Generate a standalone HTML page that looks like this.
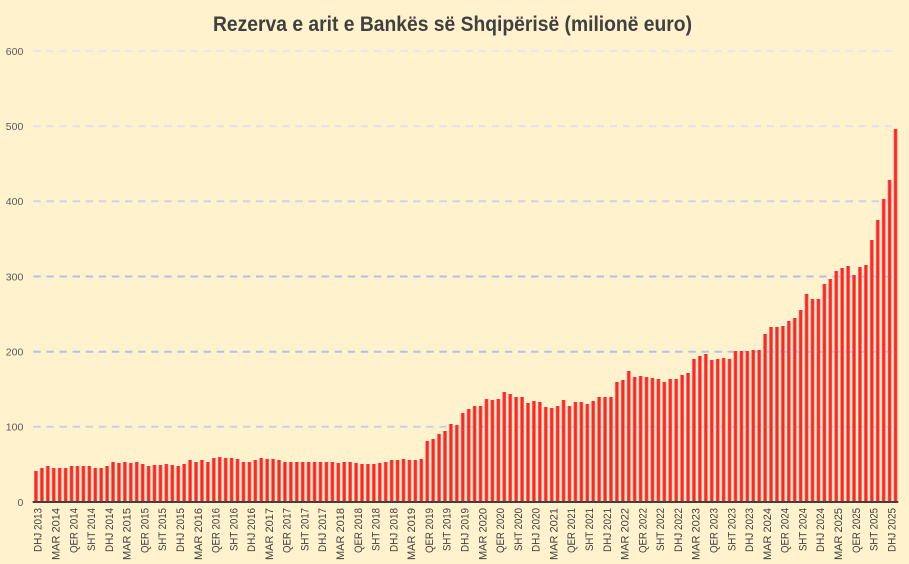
<!DOCTYPE html>
<html><head><meta charset="utf-8"><style>
html,body{margin:0;padding:0}
body{width:909px;height:564px;background:#FFF2CC;position:relative;overflow:hidden;font-family:"Liberation Sans",sans-serif}
svg{position:absolute;left:0;top:0}
#bars{position:absolute;left:32.736px;top:0;height:501px;width:876px;display:flex;align-items:flex-end;transform:scaleX(0.988);transform-origin:0 0}
#bars i{display:block;flex:none;width:3.125px;margin:0 1.4375px;height:calc(var(--v)*0.7517px - 1px);background:linear-gradient(to right,#ff958b,#ff2626 28%,#ff2626 72%,#ff958b)}
</style></head><body>
<svg width="909" height="564">
<g stroke-width="2" stroke-dasharray="7.4 5.7" fill="none">
<line x1="33.3" y1="51" x2="893" y2="51" stroke="#E3E8F0"/>
<line x1="33.3" y1="126.2" x2="893" y2="126.2" stroke="#DCE3EF"/>
<line x1="33.3" y1="201.3" x2="893" y2="201.3" stroke="#C8D5EC"/>
<line x1="33.3" y1="276.5" x2="893" y2="276.5" stroke="#AEC3EA"/>
<line x1="33.3" y1="351.7" x2="893" y2="351.7" stroke="#AEC3EA"/>
<line x1="33.3" y1="426.8" x2="893" y2="426.8" stroke="#C3D1EA"/>
</g>
</svg>
<div id="bars">
<i style="--v:41.7"></i><i style="--v:44.8"></i><i style="--v:47.4"></i><i style="--v:45.6"></i><i style="--v:44.8"></i><i style="--v:44.8"></i><i style="--v:47.4"></i><i style="--v:47.4"></i><i style="--v:47.4"></i><i style="--v:47.4"></i>
<i style="--v:44.8"></i><i style="--v:45.6"></i><i style="--v:48.2"></i><i style="--v:53.6"></i><i style="--v:51.9"></i><i style="--v:53.6"></i><i style="--v:51.9"></i><i style="--v:52.8"></i><i style="--v:51"></i><i style="--v:48.2"></i>
<i style="--v:49"></i><i style="--v:49"></i><i style="--v:51"></i><i style="--v:49"></i><i style="--v:47.4"></i><i style="--v:50"></i><i style="--v:55.4"></i><i style="--v:52.8"></i><i style="--v:55.4"></i><i style="--v:52.8"></i>
<i style="--v:58.1"></i><i style="--v:59.4"></i><i style="--v:58.1"></i><i style="--v:58.1"></i><i style="--v:57.2"></i><i style="--v:53.6"></i><i style="--v:53.6"></i><i style="--v:55.4"></i><i style="--v:58.1"></i><i style="--v:57.2"></i>
<i style="--v:57.2"></i><i style="--v:55.4"></i><i style="--v:52.8"></i><i style="--v:52.8"></i><i style="--v:53.6"></i><i style="--v:52.8"></i><i style="--v:52.8"></i><i style="--v:52.8"></i><i style="--v:52.8"></i><i style="--v:52.8"></i>
<i style="--v:52.8"></i><i style="--v:51.9"></i><i style="--v:52.8"></i><i style="--v:53.6"></i><i style="--v:51.9"></i><i style="--v:51"></i><i style="--v:50"></i><i style="--v:50"></i><i style="--v:51.9"></i><i style="--v:52.8"></i>
<i style="--v:55.4"></i><i style="--v:56.3"></i><i style="--v:57.2"></i><i style="--v:56.3"></i><i style="--v:56.3"></i><i style="--v:57.2"></i><i style="--v:81.2"></i><i style="--v:83.4"></i><i style="--v:90.5"></i><i style="--v:94.5"></i>
<i style="--v:104.2"></i><i style="--v:102"></i><i style="--v:118.4"></i><i style="--v:124.2"></i><i style="--v:128.2"></i><i style="--v:127.3"></i><i style="--v:136.6"></i><i style="--v:135.3"></i><i style="--v:137"></i><i style="--v:145.9"></i>
<i style="--v:144.1"></i><i style="--v:140.1"></i><i style="--v:140.1"></i><i style="--v:132.1"></i><i style="--v:134.4"></i><i style="--v:133"></i><i style="--v:126.4"></i><i style="--v:125"></i><i style="--v:127.3"></i><i style="--v:136.1"></i>
<i style="--v:128.2"></i><i style="--v:133"></i><i style="--v:133"></i><i style="--v:130.4"></i><i style="--v:134.4"></i><i style="--v:140.1"></i><i style="--v:140.1"></i><i style="--v:139.2"></i><i style="--v:159.2"></i><i style="--v:162.3"></i>
<i style="--v:173.8"></i><i style="--v:166.3"></i><i style="--v:167.2"></i><i style="--v:166.3"></i><i style="--v:165.4"></i><i style="--v:163.6"></i><i style="--v:159.2"></i><i style="--v:163.2"></i><i style="--v:164.1"></i><i style="--v:169.4"></i>
<i style="--v:171.2"></i><i style="--v:190.2"></i><i style="--v:194.2"></i><i style="--v:197.3"></i><i style="--v:189.3"></i><i style="--v:190.2"></i><i style="--v:192"></i><i style="--v:190.2"></i><i style="--v:201.3"></i><i style="--v:201.3"></i>
<i style="--v:201.3"></i><i style="--v:202.2"></i><i style="--v:202.2"></i><i style="--v:223.1"></i><i style="--v:232.4"></i><i style="--v:233.2"></i><i style="--v:234.1"></i><i style="--v:241.2"></i><i style="--v:245.2"></i><i style="--v:255"></i>
<i style="--v:276.7"></i><i style="--v:270.5"></i><i style="--v:269.7"></i><i style="--v:290"></i><i style="--v:296.7"></i><i style="--v:307.3"></i><i style="--v:311.3"></i><i style="--v:314"></i><i style="--v:302"></i><i style="--v:312.6"></i>
<i style="--v:315.3"></i><i style="--v:349"></i><i style="--v:374.7"></i><i style="--v:402.7"></i><i style="--v:428"></i><i style="--v:496.6"></i>
</div>
<svg width="909" height="564">
<text x="452.5" y="31" text-anchor="middle" font-family="Liberation Sans, sans-serif" font-weight="bold" font-size="21" fill="#404040" textLength="479" lengthAdjust="spacingAndGlyphs">Rezerva e arit e Bankës së Shqipërisë (milionë euro)</text>
<line x1="32.7" y1="502" x2="898.3" y2="502" stroke="#404040" stroke-width="2"/>
<g font-family="Liberation Sans, sans-serif" font-size="10.5" fill="#595959" text-anchor="end">
<text x="23.3" y="54.8">600</text>
<text x="23.3" y="130">500</text>
<text x="23.3" y="205.1">400</text>
<text x="23.3" y="280.3">300</text>
<text x="23.3" y="355.5">200</text>
<text x="23.3" y="430.6">100</text>
<text x="23.3" y="505.8">0</text>
</g>
<g font-family="Liberation Sans, sans-serif" font-size="11" fill="#404040" text-anchor="end">
<text transform="translate(41.70,508) rotate(-90)" textLength="44" lengthAdjust="spacingAndGlyphs">DHJ 2013</text>
<text transform="translate(59.48,508) rotate(-90)" textLength="52" lengthAdjust="spacingAndGlyphs">MAR 2014</text>
<text transform="translate(77.27,508) rotate(-90)" textLength="45" lengthAdjust="spacingAndGlyphs">QER 2014</text>
<text transform="translate(95.05,508) rotate(-90)" textLength="43" lengthAdjust="spacingAndGlyphs">SHT 2014</text>
<text transform="translate(112.84,508) rotate(-90)" textLength="44" lengthAdjust="spacingAndGlyphs">DHJ 2014</text>
<text transform="translate(130.62,508) rotate(-90)" textLength="52" lengthAdjust="spacingAndGlyphs">MAR 2015</text>
<text transform="translate(148.40,508) rotate(-90)" textLength="45" lengthAdjust="spacingAndGlyphs">QER 2015</text>
<text transform="translate(166.19,508) rotate(-90)" textLength="43" lengthAdjust="spacingAndGlyphs">SHT 2015</text>
<text transform="translate(183.97,508) rotate(-90)" textLength="44" lengthAdjust="spacingAndGlyphs">DHJ 2015</text>
<text transform="translate(201.76,508) rotate(-90)" textLength="52" lengthAdjust="spacingAndGlyphs">MAR 2016</text>
<text transform="translate(219.54,508) rotate(-90)" textLength="45" lengthAdjust="spacingAndGlyphs">QER 2016</text>
<text transform="translate(237.32,508) rotate(-90)" textLength="43" lengthAdjust="spacingAndGlyphs">SHT 2016</text>
<text transform="translate(255.11,508) rotate(-90)" textLength="44" lengthAdjust="spacingAndGlyphs">DHJ 2016</text>
<text transform="translate(272.89,508) rotate(-90)" textLength="52" lengthAdjust="spacingAndGlyphs">MAR 2017</text>
<text transform="translate(290.68,508) rotate(-90)" textLength="45" lengthAdjust="spacingAndGlyphs">QER 2017</text>
<text transform="translate(308.46,508) rotate(-90)" textLength="43" lengthAdjust="spacingAndGlyphs">SHT 2017</text>
<text transform="translate(326.24,508) rotate(-90)" textLength="44" lengthAdjust="spacingAndGlyphs">DHJ 2017</text>
<text transform="translate(344.03,508) rotate(-90)" textLength="52" lengthAdjust="spacingAndGlyphs">MAR 2018</text>
<text transform="translate(361.81,508) rotate(-90)" textLength="45" lengthAdjust="spacingAndGlyphs">QER 2018</text>
<text transform="translate(379.60,508) rotate(-90)" textLength="43" lengthAdjust="spacingAndGlyphs">SHT 2018</text>
<text transform="translate(397.38,508) rotate(-90)" textLength="44" lengthAdjust="spacingAndGlyphs">DHJ 2018</text>
<text transform="translate(415.16,508) rotate(-90)" textLength="52" lengthAdjust="spacingAndGlyphs">MAR 2019</text>
<text transform="translate(432.95,508) rotate(-90)" textLength="45" lengthAdjust="spacingAndGlyphs">QER 2019</text>
<text transform="translate(450.73,508) rotate(-90)" textLength="43" lengthAdjust="spacingAndGlyphs">SHT 2019</text>
<text transform="translate(468.52,508) rotate(-90)" textLength="44" lengthAdjust="spacingAndGlyphs">DHJ 2019</text>
<text transform="translate(486.30,508) rotate(-90)" textLength="52" lengthAdjust="spacingAndGlyphs">MAR 2020</text>
<text transform="translate(504.08,508) rotate(-90)" textLength="45" lengthAdjust="spacingAndGlyphs">QER 2020</text>
<text transform="translate(521.87,508) rotate(-90)" textLength="43" lengthAdjust="spacingAndGlyphs">SHT 2020</text>
<text transform="translate(539.65,508) rotate(-90)" textLength="44" lengthAdjust="spacingAndGlyphs">DHJ 2020</text>
<text transform="translate(557.44,508) rotate(-90)" textLength="52" lengthAdjust="spacingAndGlyphs">MAR 2021</text>
<text transform="translate(575.22,508) rotate(-90)" textLength="45" lengthAdjust="spacingAndGlyphs">QER 2021</text>
<text transform="translate(593.00,508) rotate(-90)" textLength="43" lengthAdjust="spacingAndGlyphs">SHT 2021</text>
<text transform="translate(610.79,508) rotate(-90)" textLength="44" lengthAdjust="spacingAndGlyphs">DHJ 2021</text>
<text transform="translate(628.57,508) rotate(-90)" textLength="52" lengthAdjust="spacingAndGlyphs">MAR 2022</text>
<text transform="translate(646.36,508) rotate(-90)" textLength="45" lengthAdjust="spacingAndGlyphs">QER 2022</text>
<text transform="translate(664.14,508) rotate(-90)" textLength="43" lengthAdjust="spacingAndGlyphs">SHT 2022</text>
<text transform="translate(681.92,508) rotate(-90)" textLength="44" lengthAdjust="spacingAndGlyphs">DHJ 2022</text>
<text transform="translate(699.71,508) rotate(-90)" textLength="52" lengthAdjust="spacingAndGlyphs">MAR 2023</text>
<text transform="translate(717.49,508) rotate(-90)" textLength="45" lengthAdjust="spacingAndGlyphs">QER 2023</text>
<text transform="translate(735.28,508) rotate(-90)" textLength="43" lengthAdjust="spacingAndGlyphs">SHT 2023</text>
<text transform="translate(753.06,508) rotate(-90)" textLength="44" lengthAdjust="spacingAndGlyphs">DHJ 2023</text>
<text transform="translate(770.84,508) rotate(-90)" textLength="52" lengthAdjust="spacingAndGlyphs">MAR 2024</text>
<text transform="translate(788.63,508) rotate(-90)" textLength="45" lengthAdjust="spacingAndGlyphs">QER 2024</text>
<text transform="translate(806.41,508) rotate(-90)" textLength="43" lengthAdjust="spacingAndGlyphs">SHT 2024</text>
<text transform="translate(824.20,508) rotate(-90)" textLength="44" lengthAdjust="spacingAndGlyphs">DHJ 2024</text>
<text transform="translate(841.98,508) rotate(-90)" textLength="52" lengthAdjust="spacingAndGlyphs">MAR 2025</text>
<text transform="translate(859.76,508) rotate(-90)" textLength="45" lengthAdjust="spacingAndGlyphs">QER 2025</text>
<text transform="translate(877.55,508) rotate(-90)" textLength="43" lengthAdjust="spacingAndGlyphs">SHT 2025</text>
<text transform="translate(895.33,508) rotate(-90)" textLength="44" lengthAdjust="spacingAndGlyphs">DHJ 2025</text>
</g>
</svg>
</body></html>
